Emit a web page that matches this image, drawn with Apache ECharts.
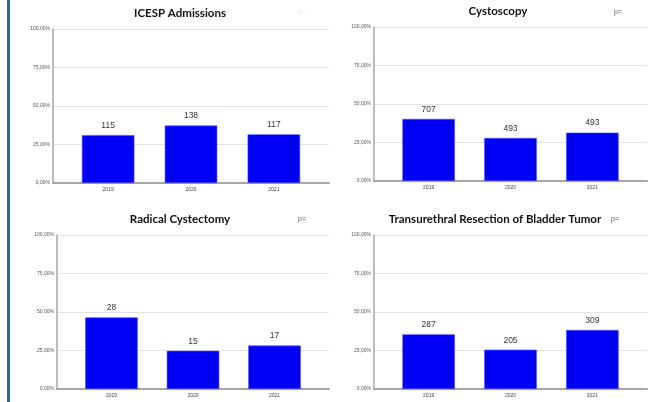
<!DOCTYPE html>
<html>
<head>
<meta charset="utf-8">
<style>
  html, body { margin: 0; padding: 0; background: #ffffff; }
  #chart { width: 655px; height: 402px; }
</style>
<script src="https://cdn.jsdelivr.net/npm/echarts@6/dist/echarts.min.js"></script>
</head>
<body>
<div id="chart"></div>
<script>
// Years shown on every panel
const years = ['2019', '2020', '2021'];

// Share of each year (percent) and the case counts printed above the bars
const admissionsPct = [31.1, 37.3, 31.6];
const admissionsN = [115, 138, 117];

const cystoscopyPct = [40.3, 27.9, 31.4];
const cystoscopyN = [707, 493, 493];

const cystectomyPct = [46.5, 24.8, 28.2];
const cystectomyN = [28, 15, 17];

const turbtPct = [35.5, 25.5, 38.3];
const turbtN = [287, 205, 309];

const yTicks = [0, 25, 50, 75, 100];

const panels = [
  { title: 'ICESP Admissions', pct: admissionsPct, n: admissionsN,
    axisX: 53, top: 29, bottom: 183, right: 329, titleX: 180, titleY: 13,
    pText: 'p=', pX: 302, pY: 12, pColor: '#ececec' },
  { title: 'Cystoscopy', pct: cystoscopyPct, n: cystoscopyN,
    axisX: 374, top: 27, bottom: 181, right: 647, titleX: 498, titleY: 11,
    pText: 'p=', pX: 618, pY: 12, pColor: '#555' },
  { title: 'Radical Cystectomy', pct: cystectomyPct, n: cystectomyN,
    axisX: 57, top: 235, bottom: 389, right: 329, titleX: 180, titleY: 219,
    pText: 'p=', pX: 302, pY: 219, pColor: '#555' },
  { title: 'Transurethral Resection of Bladder Tumor', pct: turbtPct, n: turbtN,
    axisX: 374, top: 235, bottom: 389, right: 647, titleX: 495, titleY: 219,
    pText: 'p=', pX: 615, pY: 219, pColor: '#555' }
];

const grid = [], xAxis = [], yAxis = [], series = [], graphic = [];

// left page rule
graphic.push({ type: 'rect', shape: { x: 7, y: 0, width: 3, height: 402 },
  style: { fill: '#1b6cb0' }, silent: true });

const pctFmt = v => v.toFixed(2).replace('.', ',') + '%';

panels.forEach((p, i) => {
  const h = p.bottom - p.top;
  const fullW = p.right - p.axisX;
  const pad = 13.7;
  // frame grid: axis lines, gridlines and y labels
  grid.push({ left: p.axisX, top: p.top, width: fullW, height: h });
  // inner grid: bars and year labels
  grid.push({ left: p.axisX + pad, top: p.top, width: fullW - 2 * pad, height: h });
  const g0 = 2 * i, g1 = 2 * i + 1;

  xAxis.push({ gridIndex: g0, type: 'category', data: years,
    axisLine: { show: true, lineStyle: { color: '#a6a6a6', width: 2 } },
    axisTick: { show: false }, axisLabel: { show: false }, splitLine: { show: false } });
  yAxis.push({ gridIndex: g0, type: 'value', min: yTicks[0], max: yTicks[yTicks.length - 1], interval: 25,
    axisLine: { show: true, lineStyle: { color: '#a6a6a6', width: 1.5 } },
    axisTick: { show: false },
    splitLine: { show: true, lineStyle: { color: '#e3e3e3', width: 1 } },
    axisLabel: { formatter: pctFmt, fontSize: 5, color: '#555', margin: 3,
      fontFamily: 'Liberation Sans' } });

  xAxis.push({ gridIndex: g1, type: 'category', data: years,
    axisLine: { show: false }, axisTick: { show: false },
    axisLabel: { fontSize: 5, color: '#444', margin: 4, fontFamily: 'Liberation Sans' } });
  yAxis.push({ gridIndex: g1, type: 'value', min: 0, max: 100, show: false,
    splitLine: { show: false } });

  series.push({ type: 'bar', xAxisIndex: g1, yAxisIndex: g1, data: p.pct,
    barWidth: 52.5,
    itemStyle: { color: '#0000f6', borderColor: '#4a4aff', borderWidth: 0.6 },
    label: { show: true, position: 'top', distance: 5, fontSize: 8.5,
      fontFamily: 'Liberation Sans', color: '#333',
      formatter: d => String(p.n[d.dataIndex]) },
    animation: false });

  graphic.push({ type: 'text', x: p.titleX, y: p.titleY, silent: true,
    style: { text: p.title, fontFamily: 'Lato', fontWeight: 'bold', fontSize: 11.5,
      fill: '#111', textAlign: 'center', textVerticalAlign: 'middle' } });
  graphic.push({ type: 'text', x: p.pX, y: p.pY, silent: true,
    style: { text: p.pText, fontFamily: 'Liberation Sans', fontSize: 7,
      fill: p.pColor, textAlign: 'center', textVerticalAlign: 'middle' } });
});

const chart = echarts.init(document.getElementById('chart'), null, { renderer: 'canvas' });
chart.setOption({
  animation: false,
  backgroundColor: '#ffffff',
  grid, xAxis, yAxis, series, graphic
});
</script>
</body>
</html>
